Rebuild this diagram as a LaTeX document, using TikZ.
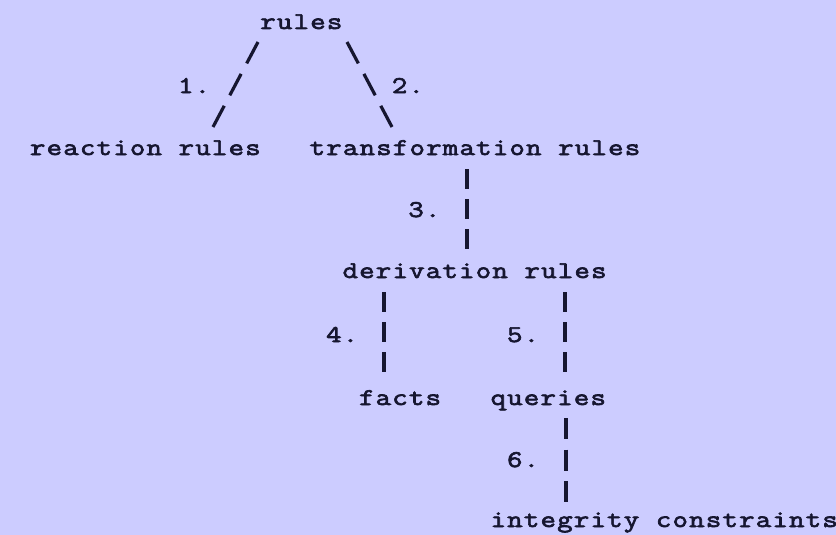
\documentclass[tikz,border=0pt]{standalone}
\usepackage{fontspec}
\newfontfamily\asciimono[LetterSpace=5.0,FakeStretch=1.25,FakeBold=2.8]{Latin Modern Mono}
\definecolor{bgcol}{RGB}{204,204,255}
\definecolor{inkcol}{RGB}{22,22,48}
\begin{document}
\begin{tikzpicture}[x=1pt,y=-1pt,
  lbl/.style={inner sep=0pt, outer sep=0pt, anchor=base west,
    font=\asciimono\fontsize{24}{28}\selectfont, text=inkcol},
  dconn/.style={draw=inkcol, line width=3.2pt, dash pattern=on 24.2pt off 11.9pt},
  vconn/.style={draw=inkcol, line width=3.2pt, dash pattern=on 20pt off 10pt},
  vconnlong/.style={vconn, dash pattern=on 21pt off 10.5pt}]
\fill[bgcol] (0,0) rectangle (836,535);
\useasboundingbox (0,0) rectangle (836,535);

\node[lbl] (rules)   at (260.3,29)   {rules};
\node[lbl] (react)   at (30,155)     {reaction rules};
\node[lbl] (trans)   at (309.65,155) {transformation rules};
\node[lbl] (l1)      at (178.05,93)  {1.};
\node[lbl] (l2)      at (391.9,93)   {2.};
\node[lbl] (l3)      at (408.35,217) {3.};
\node[lbl] (deriv)   at (342.55,278) {derivation rules};
\node[lbl] (l4)      at (326.1,342)  {4.};
\node[lbl] (l5)      at (507.05,342) {5.};
\node[lbl] (facts)   at (359,405)    {facts};
\node[lbl] (queries) at (490.6,405)  {queries};
\node[lbl] (l6)      at (507.05,467) {6.};
\node[lbl] (integ)   at (490.6,527)  {integrity constraints};

\draw[dconn] ([shift={(-2.3,13)}]rules.base west) -- ([shift={(183,-28)}]react.base west);
\draw[dconn] ([shift={(86.7,13)}]rules.base west) -- ([shift={(82.35,-28)}]trans.base west);
\draw[vconn] ([shift={(157.35,14)}]trans.base west) -- ([shift={(124.45,-29)}]deriv.base west);
\draw[vconn] ([shift={(41.45,14)}]deriv.base west) -- ([shift={(25,-33)}]facts.base west);
\draw[vconn] ([shift={(222.45,14)}]deriv.base west) -- ([shift={(74.4,-33)}]queries.base west);
\draw[vconnlong] ([shift={(75.4,13)}]queries.base west) -- ([shift={(75.4,-25)}]integ.base west);
\end{tikzpicture}
\end{document}
